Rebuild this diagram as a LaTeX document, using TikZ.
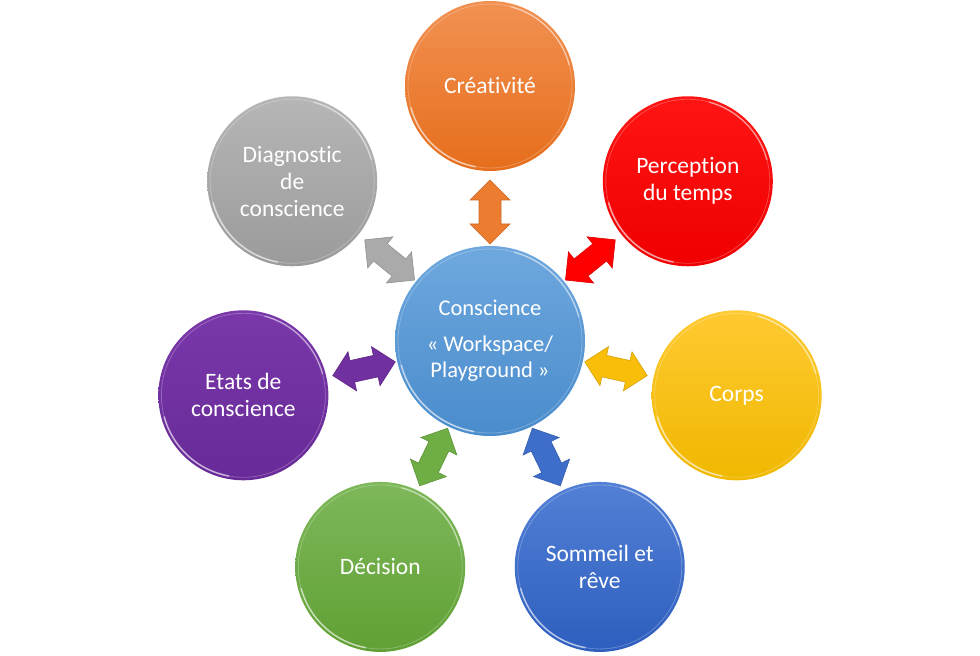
\documentclass[tikz,border=0pt]{standalone}
\usepackage{fontspec}
\setmainfont[Ligatures=NoCommon]{Carlito}
\usetikzlibrary{calc}
\definecolor{orA}{RGB}{242,145,82}\definecolor{orB}{RGB}{230,110,28}\definecolor{orC}{RGB}{236,124,48}
\definecolor{reA}{RGB}{255,20,20}\definecolor{reB}{RGB}{240,0,0}\definecolor{reC}{RGB}{255,0,0}
\definecolor{yeA}{RGB}{255,202,50}\definecolor{yeB}{RGB}{240,184,0}\definecolor{yeC}{RGB}{248,190,10}
\definecolor{blA}{RGB}{82,128,214}\definecolor{blB}{RGB}{46,94,190}\definecolor{blC}{RGB}{62,110,202}
\definecolor{grA}{RGB}{126,184,90}\definecolor{grB}{RGB}{96,160,52}\definecolor{grC}{RGB}{110,174,68}
\definecolor{puA}{RGB}{122,56,170}\definecolor{puB}{RGB}{104,42,152}\definecolor{puC}{RGB}{112,48,160}
\definecolor{gyA}{RGB}{182,182,182}\definecolor{gyB}{RGB}{155,155,155}\definecolor{gyC}{RGB}{170,170,170}
\definecolor{ceA}{RGB}{110,168,222}\definecolor{ceB}{RGB}{74,140,204}
\newcommand\biarrow[2]{%
  \coordinate (A) at ($(c.center)!97pt!(#2.center)$);
  \coordinate (B) at ($(c.center)!161pt!(#2.center)$);
  \coordinate (A1) at ($(A)!20pt!(B)$);
  \coordinate (B1) at ($(B)!20pt!(A)$);
  \filldraw[fill=#1, draw=#1!85!black, line width=0.6pt, line join=miter]
    (A) -- ($(A1)!20pt!90:(A)$) -- ($(A1)!11pt!90:(A)$) -- ($(B1)!11pt!-90:(B)$)
    -- ($(B1)!20pt!-90:(B)$) -- (B) -- ($(B1)!20pt!90:(B)$) -- ($(B1)!11pt!90:(B)$)
    -- ($(A1)!11pt!-90:(A)$) -- ($(A1)!20pt!-90:(A)$) -- cycle;
}
\newcommand\rim[2]{%
  \draw[white, opacity=0.55, line width=1.6pt] ([shift={(195:#2)}]#1.center) arc[start angle=195, end angle=260, radius=#2];
  \draw[white, opacity=0.45, line width=1.4pt] ([shift={(15:#2)}]#1.center) arc[start angle=15, end angle=75, radius=#2];
  \draw[white, opacity=0.25, line width=0.8pt] (#1.center) circle[radius=#2];
}
\begin{document}
\begin{tikzpicture}[x=1pt,y=1pt,
  bubble/.style={circle, minimum size=170pt, inner sep=0pt, align=center, text=white,
    font=\fontsize{23.5}{27}\selectfont},
  shadeof/.style={top color=#1A, bottom color=#1B}]
\useasboundingbox (0,0) rectangle (980,656);
\coordinate (o) at (490,317);
\node[bubble, minimum size=190pt, top color=ceA, bottom color=ceB, font=\fontsize{22.5}{26.5}\selectfont] (c) at ([yshift=-2pt]o)
  {Conscience\\[9pt]« Workspace/\\Playground »};
\node[bubble, shadeof=or] (s1) at ($(o)+(90:253)$) {Créativité};
\node[bubble, shadeof=re] (s2) at ($(o)+(38.57:253)$) {Perception\\du temps};
\node[bubble, shadeof=ye] (s3) at ($(o)+(-12.86:253)$) {Corps};
\node[bubble, shadeof=bl] (s4) at ($(o)+(-64.29:253)$) {Sommeil et\\rêve};
\node[bubble, shadeof=gr] (s5) at ($(o)+(-115.71:253)$) {Décision};
\node[bubble, shadeof=pu] (s6) at ($(o)+(-167.14:253)$) {Etats de\\conscience};
\node[bubble, shadeof=gy] (s7) at ($(o)+(141.43:253)$) {Diagnostic\\de\\conscience};
\rim{c}{92}
\rim{s1}{82}\rim{s2}{82}\rim{s3}{82}\rim{s4}{82}\rim{s5}{82}\rim{s6}{82}\rim{s7}{82}
\biarrow{orC}{s1}
\biarrow{reC}{s2}
\biarrow{yeC}{s3}
\biarrow{blC}{s4}
\biarrow{grC}{s5}
\biarrow{puC}{s6}
\biarrow{gyC}{s7}
\end{tikzpicture}
\end{document}
